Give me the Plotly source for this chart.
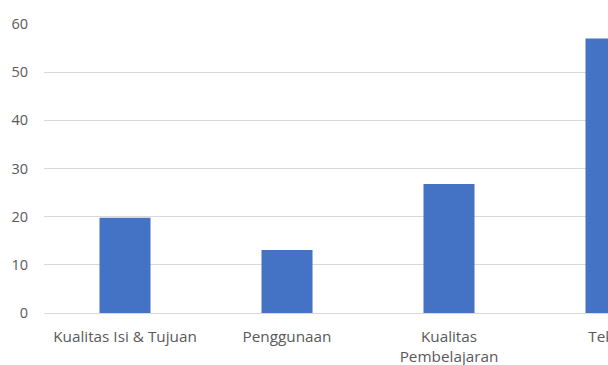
import plotly.graph_objects as go

categories = ["Kualitas Isi & Tujuan", "Penggunaan", "Kualitas<br>Pembelajaran", "Teknis"]
values = [19.8, 13.1, 26.8, 57]
y_ticks = [0, 10, 20, 30, 40, 50, 60]

font_family = "Open Sans, Noto Sans, sans-serif"
text_color = "#595959"

fig = go.Figure(go.Bar(
    x=categories, y=values,
    marker=dict(color="#4472c4", line=dict(width=0)),
    width=0.315,
))

fig.update_layout(
    width=700, height=365,
    margin=dict(l=44, r=8, t=24, b=52),
    paper_bgcolor="white", plot_bgcolor="white",
    showlegend=False,
    font=dict(family=font_family, size=14, color=text_color),
    xaxis=dict(
        showgrid=False, showline=False, zeroline=False,
        automargin=False,
        ticks="outside", ticklen=10, tickcolor="rgba(0,0,0,0)",
        tickfont=dict(size=15.3, color=text_color),
    ),
    yaxis=dict(
        range=[0, 60], tickvals=y_ticks,
        automargin=False,
        showgrid=True, gridcolor="#d9d9d9", gridwidth=1,
        zeroline=True, zerolinecolor="#d9d9d9", zerolinewidth=1,
        showline=False,
        ticklabelstandoff=15,
        tickfont=dict(size=14.5, color=text_color),
    ),
)

fig.write_html("out.html")
